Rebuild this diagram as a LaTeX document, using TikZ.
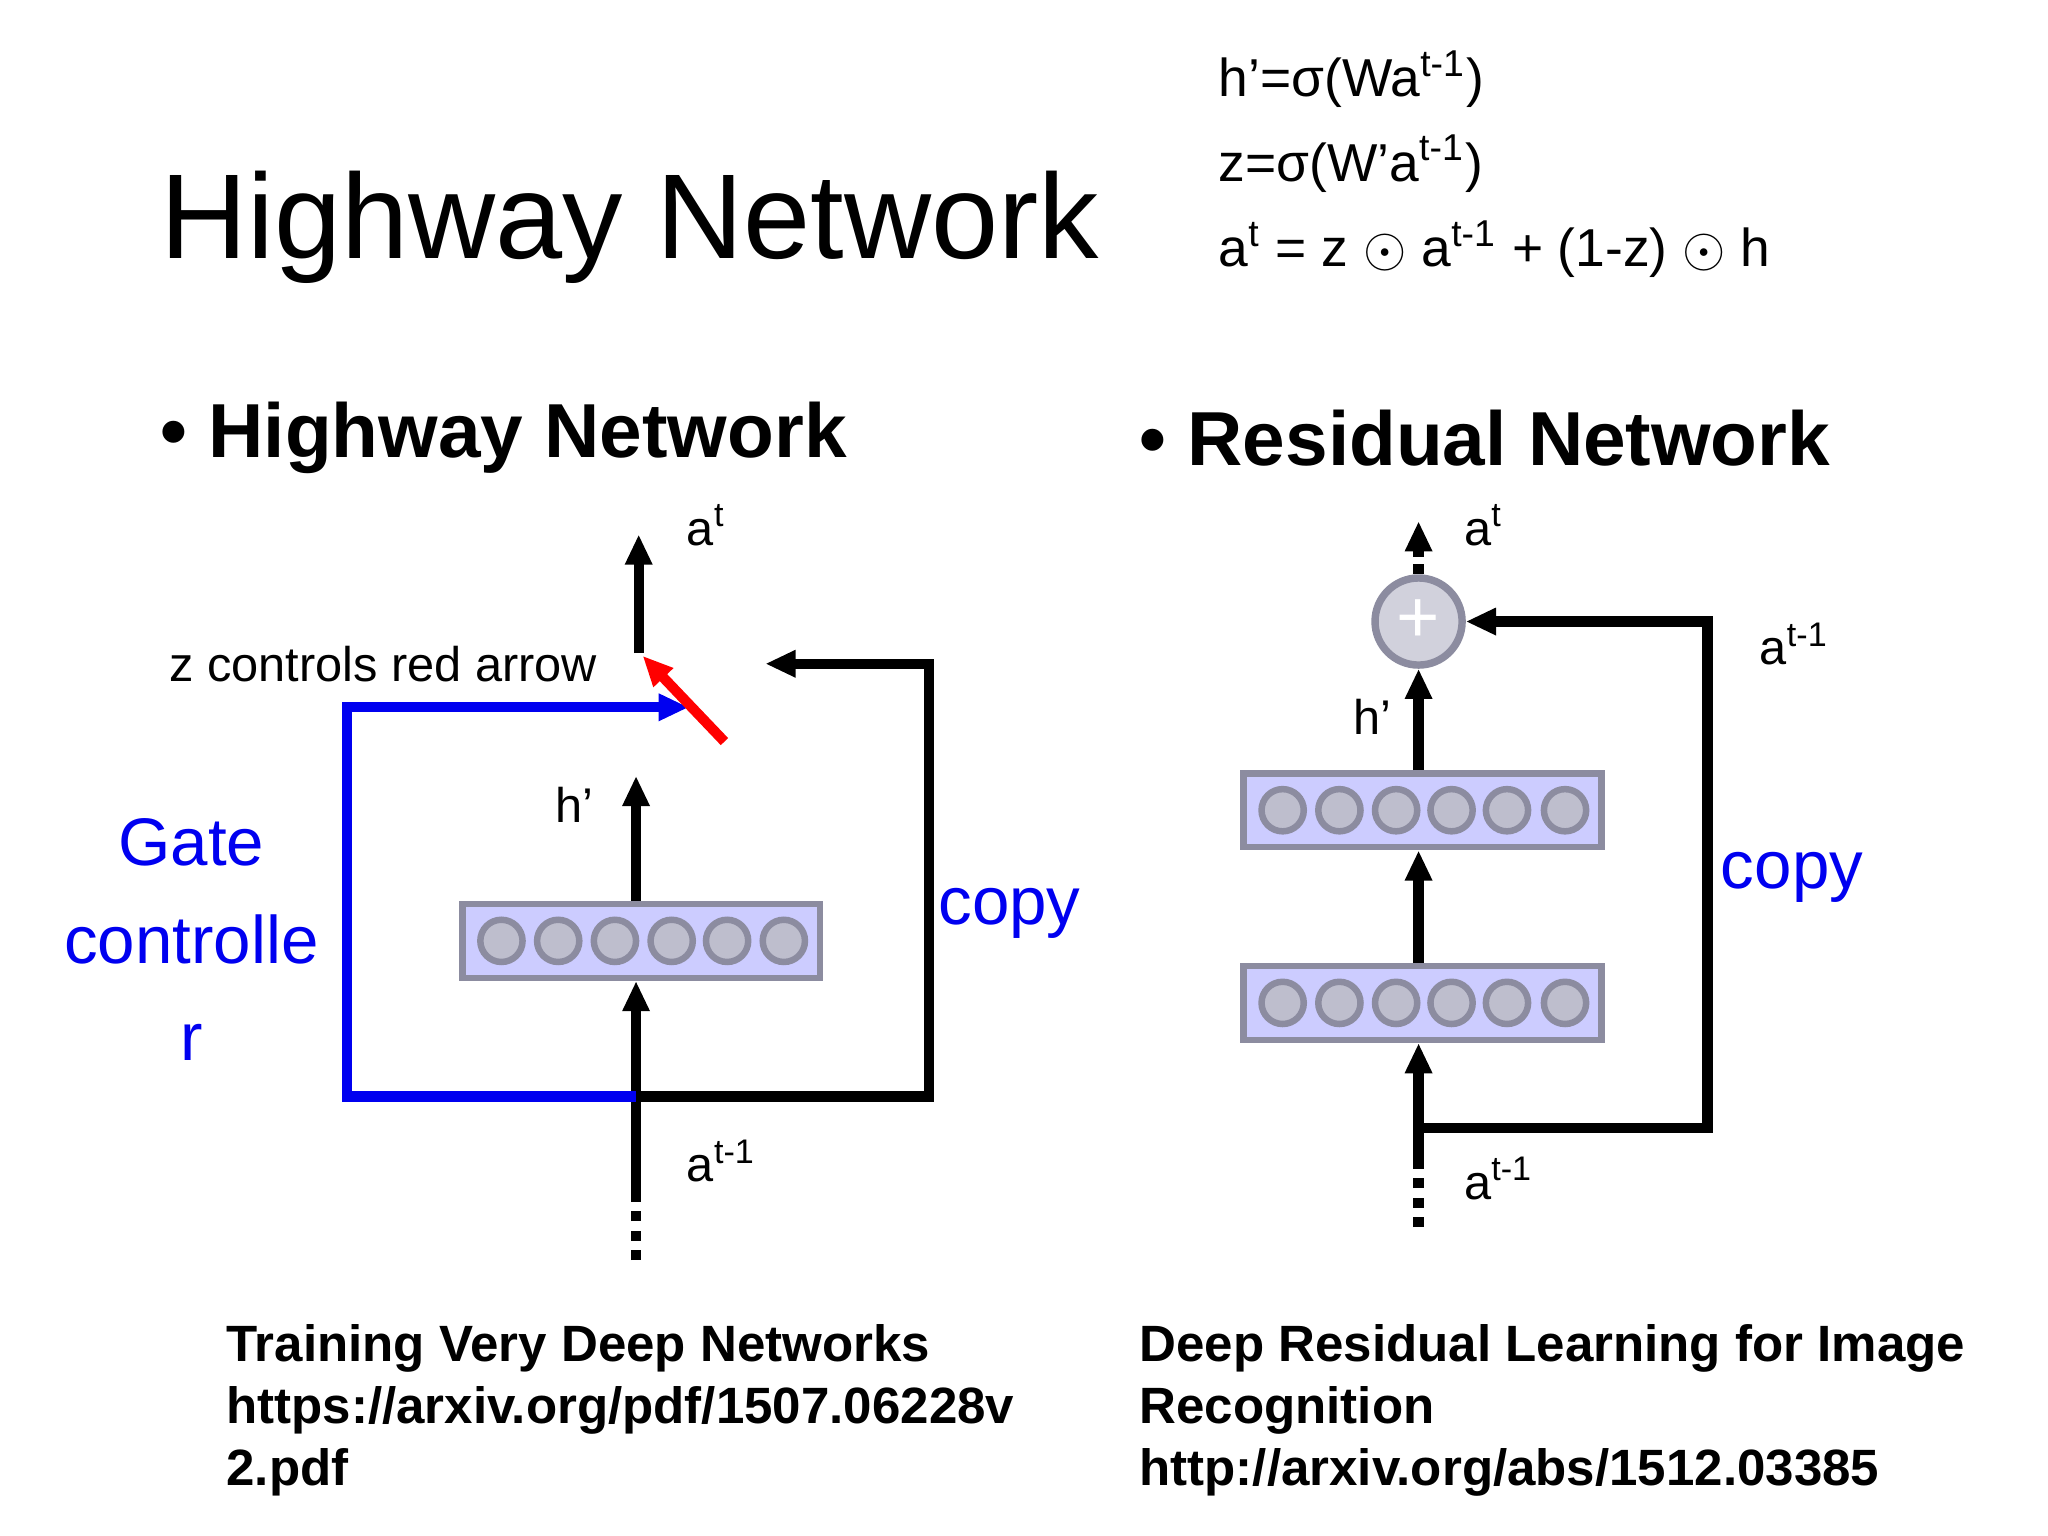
\documentclass[tikz,border=0pt]{standalone}
\usepackage{fontspec}
\setmainfont{Liberation Sans}
\usetikzlibrary{arrows.meta, positioning}
\definecolor{cellfill}{RGB}{204,204,255}
\definecolor{cellline}{RGB}{140,140,160}
\definecolor{dotfill}{RGB}{190,190,205}
\definecolor{gateblue}{RGB}{0,0,240}
\begin{document}
\begin{tikzpicture}[
    x=0.01cm, y=-0.01cm,
    >={Triangle[length=6.5pt,width=5.5pt]},
    line width=2.2pt,
    layer/.style={draw=cellline, line width=1.4pt, fill=cellfill, minimum width=271*0.01cm, minimum height=56*0.01cm, inner sep=0pt},
    cell/.style={circle, draw=cellline, line width=1.4pt, fill=dotfill, minimum size=32*0.01cm, inner sep=0pt},
    lbl/.style={font=\fontsize{10.5}{13}\selectfont},
    blue lbl/.style={text=gateblue, font=\fontsize{14.5}{19}\selectfont},
    ref/.style={font=\bfseries\fontsize{11}{13.4}\selectfont, align=left, anchor=north west},
    eq/.style={anchor=west, font=\fontsize{11.5}{14}\selectfont},
]
\useasboundingbox[fill=white] (0,0) rectangle (1552,1164);
% Titles
\node[anchor=west, font=\fontsize{26}{32}\selectfont] (title) at (106,172) {Highway Network};
\node[eq] (eqh) at (908,60) {h’=σ(Wa\textsuperscript{t-1})};
\node[eq] (eqz) at (908,124) {z=σ(W’a\textsuperscript{t-1})};
\node[eq] (eqa) at (908,189) {a\textsuperscript{t} = z {\large$\odot$} a\textsuperscript{t-1} + (1-z) {\large$\odot$} h};
\node[anchor=west, font=\bfseries\fontsize{16.5}{20}\selectfont] (hwhead) at (106,332) {• Highway Network};
\node[anchor=west, font=\bfseries\fontsize{16.5}{20}\selectfont] (rnhead) at (848,332) {• Residual Network};
% Highway network
\node[layer] (hbox) at (486,713) {};
\foreach \i/\cx in {1/380,2/423,3/466,4/509,5/551,6/594}
  \node[cell] (hc\i) at (\cx,713) {};
\coordinate (hin) at (482,955);
\coordinate (hsplit) at (482,831);
\coordinate (hout) at (482,588);
\coordinate (gbot) at (263,831);
\coordinate (gtop) at (263,536);
\coordinate (gend) at (522,536);
\coordinate (cbot) at (704,831);
\coordinate (ctop) at (704,503);
\coordinate (cend) at (580,503);
\coordinate (swlo) at (549,562);
\coordinate (swhi) at (487,497);
\coordinate (atlo) at (484,495);
\coordinate (athi) at (484,405);
\draw[dotted] (hin) -- (482,905);
\draw[->] (482,905) -- (hbox.south -| hin);
\draw[->] (hbox.north -| hin) -- (hout);
\draw[->] (atlo) -- (athi);
\draw[->, gateblue] (hsplit) -- (gbot) -- (gtop) -- (gend);
\draw[->] (hsplit) -- (cbot) -- (ctop) -- (cend);
\draw[->, red] (swlo) -- (swhi);
\node[lbl, anchor=west] (hat) at (505,398) {a\textsuperscript{t}};
\node[lbl, anchor=east] (zlbl) at (468,503) {z controls red arrow};
\node[lbl] (hh) at (435,610) {h’};
\node[lbl, anchor=west] (hat1) at (505,880) {a\textsuperscript{t-1}};
\node[blue lbl, align=center] (gate) at (145,712) {Gate\\[2pt]controlle\\[2pt]r};
\node[blue lbl] (hcopy) at (765,692) {copy};
% Residual network
\node[layer] (rbox1) at (1078,760) {};
\node[layer] (rbox2) at (1078,614) {};
\foreach \i/\cx in {1/972,2/1015,3/1058,4/1100,5/1142,6/1186} {
  \node[cell] (ra\i) at (\cx,760) {};
  \node[cell] (rb\i) at (\cx,614) {};
}
\node[circle, draw=cellline, line width=1.6pt, fill=dotfill!70, minimum size=66*0.01cm, inner sep=0pt, text=white, font=\fontsize{16}{16}\selectfont] (plus) at (1075,471) {+};
\coordinate (rin) at (1075,930);
\coordinate (rsplit) at (1075,855);
\coordinate (rbot) at (1294,855);
\coordinate (rtop) at (1294,471);
\coordinate (rout) at (1075,395);
\draw[dotted] (rin) -- (1075,880);
\draw[->] (1075,880) -- (rbox1.south -| rin);
\draw[->] (rbox1.north -| rin) -- (rbox2.south -| rin);
\draw[->] (rbox2.north -| rin) -- (plus);
\draw[dotted] (plus) -- (1075,420);
\draw[->] (1075,422) -- (rout);
\draw[->] (rsplit) -- (rbot) -- (rtop) -- (plus);
\node[lbl, anchor=west] (rat) at (1094,398) {a\textsuperscript{t}};
\node[lbl, anchor=west] (rat1top) at (1318,488) {a\textsuperscript{t-1}};
\node[lbl] (rh) at (1040,543) {h’};
\node[lbl, anchor=west] (rat1) at (1094,893) {a\textsuperscript{t-1}};
\node[blue lbl] (rcopy) at (1358,665) {copy};
% References
\node[ref] (href) at (156,988) {Training Very Deep Networks\\https://arxiv.org/pdf/1507.06228v\\2.pdf};
\node[ref] (rref) at (848,988) {Deep Residual Learning for Image\\Recognition\\http://arxiv.org/abs/1512.03385};
\end{tikzpicture}
\end{document}
